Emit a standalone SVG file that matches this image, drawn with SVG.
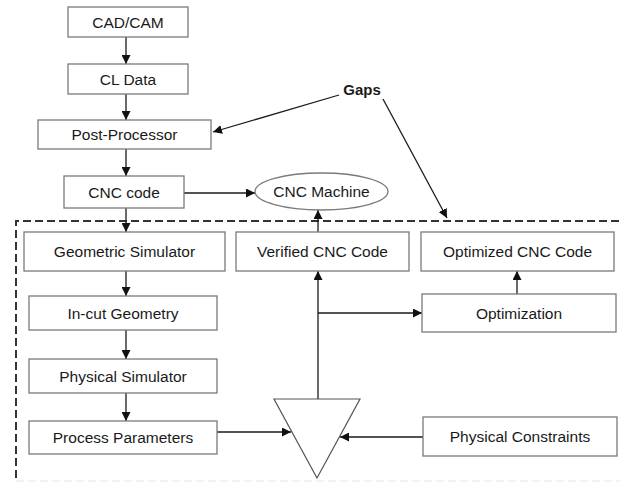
<svg xmlns="http://www.w3.org/2000/svg" width="621" height="483" viewBox="0 0 621 483">
<style>
.box{fill:#fff;stroke:#7a7a7a;stroke-width:1.3}
.lbl{font-family:"Liberation Sans",Arial,sans-serif;font-size:15.5px;fill:#1a1a1a;text-anchor:middle}
.gap{font-family:"Liberation Sans",Arial,sans-serif;font-size:15px;font-weight:bold;fill:#1a1a1a;text-anchor:middle}
.ln{fill:none;stroke:#1a1a1a;stroke-width:1.3}
.dash{fill:none;stroke:#333;stroke-width:2;stroke-dasharray:8 4}
</style>
<defs>
<marker id="ah" viewBox="0 0 10 10" refX="10" refY="5" markerWidth="9" markerHeight="9" markerUnits="userSpaceOnUse" orient="auto">
<path d="M0,0 L10,5 L0,10 z" fill="#111"/>
</marker>
</defs>
<rect width="621" height="483" fill="#fff"/>
<g id="boundary">
<path class="dash" d="M16,478 L16,221 L621,221"/>
<path d="M16,481 L620,481" fill="none" stroke="#e4e4e4" stroke-width="1" stroke-dasharray="8 4"/>
</g>
<g id="connectors">
<path class="ln" d="M126,37 L126,64" marker-end="url(#ah)"/>
<path class="ln" d="M126,94 L126,120" marker-end="url(#ah)"/>
<path class="ln" d="M126,149 L126,176" marker-end="url(#ah)"/>
<path class="ln" d="M126,208 L126,232" marker-end="url(#ah)"/>
<path class="ln" d="M126,271 L126,296" marker-end="url(#ah)"/>
<path class="ln" d="M126,330 L126,359" marker-end="url(#ah)"/>
<path class="ln" d="M126,393 L126,421" marker-end="url(#ah)"/>
<path class="ln" d="M184,193 L255,193" marker-end="url(#ah)"/>
<path class="ln" d="M339,95 L213,132" marker-end="url(#ah)"/>
<path class="ln" d="M383,99 L447,218" marker-end="url(#ah)"/>
<path class="ln" d="M318,232 L318,210" marker-end="url(#ah)"/>
<path class="ln" d="M318,399 L318,271" marker-end="url(#ah)"/>
<path class="ln" d="M318,313 L422,313" marker-end="url(#ah)"/>
<path class="ln" d="M517,294 L517,271" marker-end="url(#ah)"/>
<path class="ln" d="M217,432 L291,432" marker-end="url(#ah)"/>
<path class="ln" d="M423,437 L340,437" marker-end="url(#ah)"/>
</g>
<g id="cadcam"><rect class="box" x="68" y="7" width="120" height="30"/><text class="lbl" x="128" y="27.5">CAD/CAM</text></g>
<g id="cldata"><rect class="box" x="68" y="64" width="120" height="30"/><text class="lbl" x="128" y="84.5">CL Data</text></g>
<g id="postprocessor"><rect class="box" x="38" y="120" width="173" height="29"/><text class="lbl" x="124.5" y="140">Post-Processor</text></g>
<g id="cnccode"><rect class="box" x="64" y="176" width="120" height="32"/><text class="lbl" x="124" y="197.5">CNC code</text></g>
<g id="cncmachine"><ellipse cx="321.5" cy="191.5" rx="66.5" ry="18.5" fill="#fff" stroke="#7a7a7a" stroke-width="1.3"/><text class="lbl" x="321.5" y="197">CNC Machine</text></g>
<g id="gaps"><text class="gap" x="362" y="95">Gaps</text></g>
<g id="geosim"><rect class="box" x="24" y="232" width="201" height="39"/><text class="lbl" x="124.5" y="257">Geometric Simulator</text></g>
<g id="verified"><rect class="box" x="236" y="232" width="173" height="39"/><text class="lbl" x="322.5" y="257">Verified CNC Code</text></g>
<g id="optimizedcode"><rect class="box" x="421" y="232" width="193" height="39"/><text class="lbl" x="517.5" y="257">Optimized CNC Code</text></g>
<g id="incut"><rect class="box" x="29" y="296" width="188" height="34"/><text class="lbl" x="123" y="318.5">In-cut Geometry</text></g>
<g id="optimization"><rect class="box" x="422" y="294" width="194" height="38"/><text class="lbl" x="519" y="318.5">Optimization</text></g>
<g id="physsim"><rect class="box" x="29" y="359" width="188" height="34"/><text class="lbl" x="123" y="381.5">Physical Simulator</text></g>
<g id="procparams"><rect class="box" x="29" y="421" width="188" height="33"/><text class="lbl" x="123" y="443">Process Parameters</text></g>
<g id="comparator"><path d="M274,399 L360,399 L317,478 Z" fill="#fff" stroke="#555" stroke-width="1.2"/></g>
<g id="physconstraints"><rect class="box" x="423" y="417" width="194" height="39"/><text class="lbl" x="520" y="442">Physical Constraints</text></g>
</svg>
